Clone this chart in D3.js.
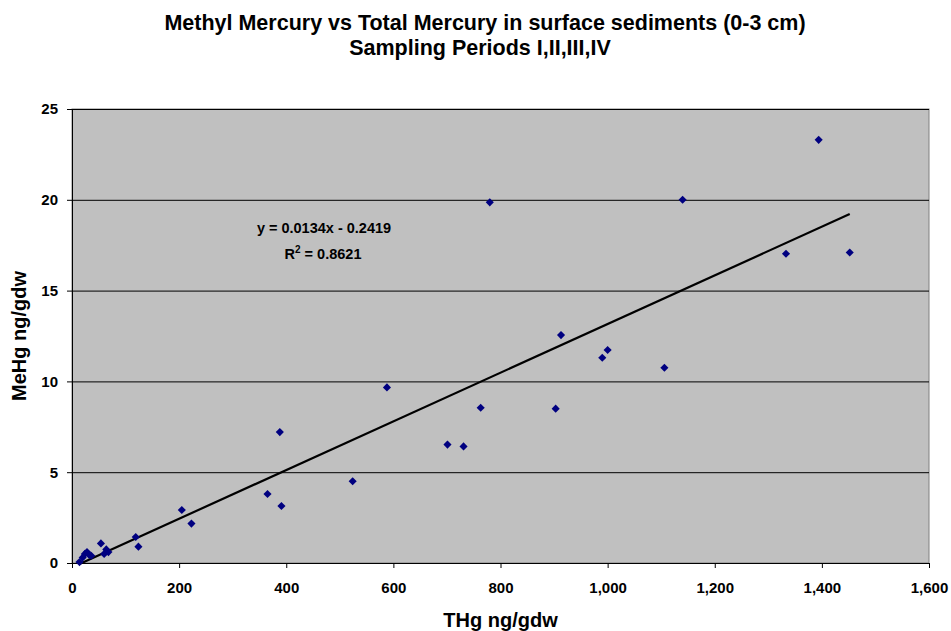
<!DOCTYPE html>
<html>
<head>
<meta charset="utf-8">
<script src="https://cdn.jsdelivr.net/npm/d3@7"></script>
<style>
  body { margin: 0; background: #fff; }
  text { font-family: Arial, "Liberation Sans", sans-serif; font-weight: bold; }
</style>
</head>
<body>
<svg width="951" height="631"></svg>
<script>
// THg (ng/gdw) and MeHg (ng/gdw)
var thg  = [14, 20, 24, 28, 32, 36, 54, 60, 64, 68, 119, 124, 205, 223, 365, 388, 391, 524, 588,
            701, 731, 763, 780, 903, 913, 990, 1000, 1106, 1140, 1333, 1394, 1452];
var mehg = [0.05, 0.3, 0.5, 0.6, 0.45, 0.4, 1.08, 0.5, 0.75, 0.6, 1.43, 0.9, 2.92, 2.17, 3.8, 7.21, 3.14, 4.5, 9.67,
            6.52, 6.42, 8.55, 19.86, 8.5, 12.55, 11.3, 11.73, 10.75, 20.0, 17.03, 23.3, 17.1];
var xTicks = [0, 200, 400, 600, 800, 1000, 1200, 1400, 1600];
var yTicks = [0, 5, 10, 15, 20, 25];
var slope = 0.0134, intercept = -0.2419;

var data = thg.map(function(d, i) { return {x: d, y: mehg[i]}; });

var svg = d3.select("svg"),
    margin = {top: 109, right: 22, bottom: 68, left: 72},
    width = +svg.attr("width") - margin.left - margin.right,
    height = +svg.attr("height") - margin.top - margin.bottom,
    g = svg.append("g").attr("transform", "translate(" + margin.left + "," + margin.top + ")");

var x = d3.scaleLinear().domain([0, 1600]).range([0, width]);
var y = d3.scaleLinear().domain([0, 25]).range([height, 0]);

// plot area
g.append("rect")
    .attr("width", width).attr("height", height)
    .attr("fill", "#c0c0c0")
    .attr("stroke", "#808080");

// gridlines
g.selectAll(".grid").data(yTicks.slice(1))
  .enter().append("line")
    .attr("x1", 0).attr("x2", width)
    .attr("y1", function(d) { return y(d) + 0.5; })
    .attr("y2", function(d) { return y(d) + 0.5; })
    .attr("stroke", "#000").attr("stroke-width", 1);

// axes
var fmt = d3.format(",");
var xAxis = g.append("g")
    .attr("transform", "translate(0," + height + ")")
    .call(d3.axisBottom(x).tickValues(xTicks).tickFormat(fmt).tickSizeOuter(0).tickSize(5).tickPadding(14));
var yAxis = g.append("g")
    .call(d3.axisLeft(y).tickValues(yTicks).tickSizeOuter(0).tickSize(5).tickPadding(9));
[xAxis, yAxis].forEach(function(a) {
  a.selectAll("text").style("font-size", "15px").attr("fill", "#000");
  a.selectAll("line, path").attr("stroke", "#000");
});

// trendline over the data range
var xr = d3.extent(thg);
g.append("line")
    .attr("x1", x(xr[0])).attr("y1", y(slope * xr[0] + intercept))
    .attr("x2", x(xr[1])).attr("y2", y(slope * xr[1] + intercept))
    .attr("stroke", "#000").attr("stroke-width", 2.2);

// markers
g.selectAll(".pt").data(data)
  .enter().append("path")
    .attr("d", d3.symbol().type(d3.symbolDiamond2).size(42))
    .attr("transform", function(d) { return "translate(" + x(d.x) + "," + y(d.y) + ")"; })
    .attr("fill", "#000080");

// equation
var eq = svg.append("text")
    .attr("x", 324).attr("y", 233)
    .attr("text-anchor", "middle").style("font-size", "14.5px")
    .text("y = 0.0134x - 0.2419");
var r2 = svg.append("text")
    .attr("x", 323).attr("y", 259)
    .attr("text-anchor", "middle").style("font-size", "14.5px");
r2.append("tspan").text("R");
r2.append("tspan").attr("dy", -6).style("font-size", "10px").text("2");
r2.append("tspan").attr("dy", 6).text(" = 0.8621");

// titles
svg.append("text")
    .attr("x", 485).attr("y", 30)
    .attr("text-anchor", "middle").style("font-size", "21.5px")
    .text("Methyl Mercury vs Total Mercury in surface sediments (0-3 cm)");
svg.append("text")
    .attr("x", 480).attr("y", 55)
    .attr("text-anchor", "middle").style("font-size", "21.5px")
    .text("Sampling Periods I,II,III,IV");
svg.append("text")
    .attr("x", margin.left + width / 2).attr("y", 627)
    .attr("text-anchor", "middle").style("font-size", "20px")
    .text("THg ng/gdw");
svg.append("text")
    .attr("transform", "translate(26," + (margin.top + height / 2) + ") rotate(-90)")
    .attr("text-anchor", "middle").style("font-size", "20px")
    .text("MeHg ng/gdw");
</script>
</body>
</html>
